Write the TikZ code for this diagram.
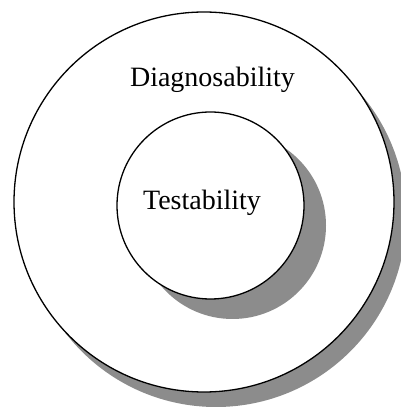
\documentclass[tikz,border=0pt]{standalone}
\usepackage{fontspec}
\setmainfont{Liberation Serif}
\usepackage{tikz}
\usetikzlibrary{positioning,shadows}

\begin{document}
\begin{tikzpicture}[
  x=1pt, y=1pt,
  ring/.style={circle, draw, line width=1.3pt, fill=white, inner sep=0pt, outer sep=0pt},
  label/.style={font=\fontsize{28}{32}\selectfont},
]
\useasboundingbox (0,0) rectangle (401,410);

% outer ring
\node[ring, minimum size=380pt,
  drop shadow={shadow xshift=12pt, shadow yshift=-15pt, fill=black!45, opacity=1}] (diag) at (204,208) {};
\node[label] (diag_txt) at (212.5,330) {Diagnosability};

% inner ring
\node[ring, minimum size=187pt,
  drop shadow={shadow xshift=22pt, shadow yshift=-20pt, fill=black!45, opacity=1}] (test) at (210.5,204.5) {};
\node[label] (test_txt) at (202,207) {Testability};

\end{tikzpicture}
\end{document}
